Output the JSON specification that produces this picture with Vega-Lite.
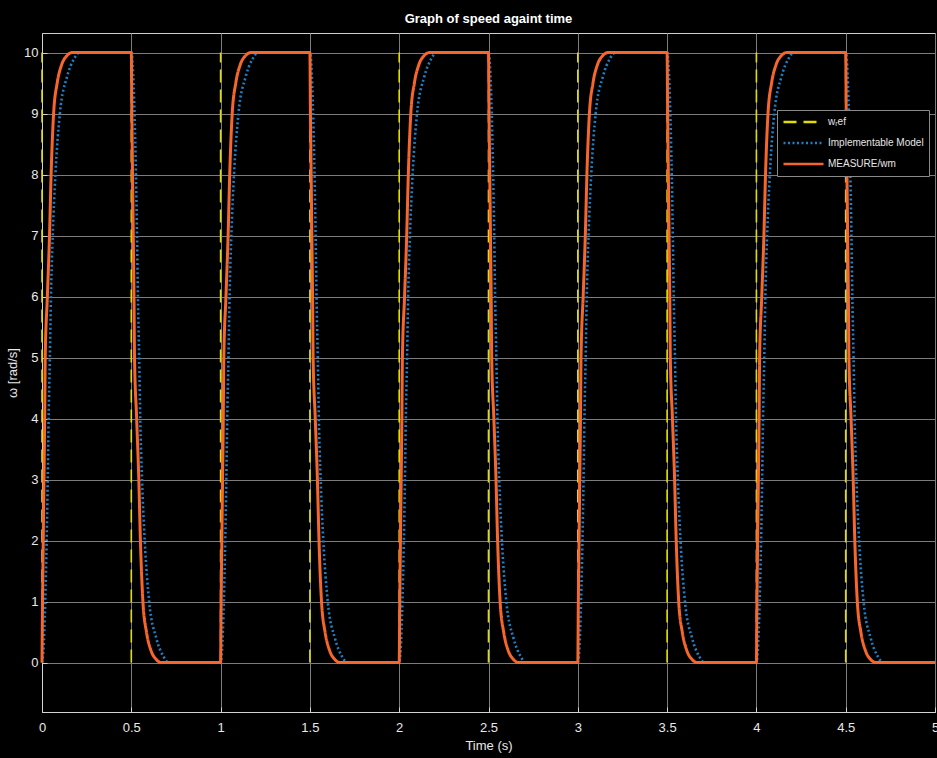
{
  "$schema": "https://vega.github.io/schema/vega-lite/v6.json",
  "width": 893,
  "height": 679,
  "autosize": {"type": "none"},
  "padding": {"left": 42, "top": 33, "right": 2, "bottom": 46},
  "background": "black",
  "title": {
    "text": "Graph of speed againt time",
    "color": "white",
    "fontSize": 13,
    "fontWeight": "bold",
    "font": "Liberation Sans, sans-serif",
    "offset": 7,
    "anchor": "middle"
  },
  "datasets": {
    "ref": [
      {"t": 0, "lo": 0, "hi": 10}, {"t": 0.5, "lo": 0, "hi": 10}, {"t": 1, "lo": 0, "hi": 10},
      {"t": 1.5, "lo": 0, "hi": 10}, {"t": 2, "lo": 0, "hi": 10}, {"t": 2.5, "lo": 0, "hi": 10},
      {"t": 3, "lo": 0, "hi": 10}, {"t": 3.5, "lo": 0, "hi": 10}, {"t": 4, "lo": 0, "hi": 10},
      {"t": 4.5, "lo": 0, "hi": 10}
    ],
    "model": [
      {"t": 0, "v": 0}, {"t": 0.008, "v": 0.2}, {"t": 0.018, "v": 1}, {"t": 0.026, "v": 2}, {"t": 0.032, "v": 3}, {"t": 0.037, "v": 4}, {"t": 0.044, "v": 5}, {"t": 0.05, "v": 6}, {"t": 0.06, "v": 7}, {"t": 0.075, "v": 8}, {"t": 0.1, "v": 9}, {"t": 0.14, "v": 9.6}, {"t": 0.18, "v": 9.9}, {"t": 0.21, "v": 10},
      {"t": 0.5, "v": 10}, {"t": 0.508, "v": 9.8}, {"t": 0.518, "v": 9}, {"t": 0.526, "v": 8}, {"t": 0.532, "v": 7}, {"t": 0.537, "v": 6}, {"t": 0.544, "v": 5}, {"t": 0.55, "v": 4}, {"t": 0.56, "v": 3}, {"t": 0.575, "v": 2}, {"t": 0.6, "v": 1}, {"t": 0.64, "v": 0.4}, {"t": 0.68, "v": 0.1}, {"t": 0.71, "v": 0},
      {"t": 1, "v": 0}, {"t": 1.008, "v": 0.2}, {"t": 1.018, "v": 1}, {"t": 1.026, "v": 2}, {"t": 1.032, "v": 3}, {"t": 1.037, "v": 4}, {"t": 1.044, "v": 5}, {"t": 1.05, "v": 6}, {"t": 1.06, "v": 7}, {"t": 1.075, "v": 8}, {"t": 1.1, "v": 9}, {"t": 1.14, "v": 9.6}, {"t": 1.18, "v": 9.9}, {"t": 1.21, "v": 10},
      {"t": 1.5, "v": 10}, {"t": 1.508, "v": 9.8}, {"t": 1.518, "v": 9}, {"t": 1.526, "v": 8}, {"t": 1.532, "v": 7}, {"t": 1.537, "v": 6}, {"t": 1.544, "v": 5}, {"t": 1.55, "v": 4}, {"t": 1.56, "v": 3}, {"t": 1.575, "v": 2}, {"t": 1.6, "v": 1}, {"t": 1.64, "v": 0.4}, {"t": 1.68, "v": 0.1}, {"t": 1.71, "v": 0},
      {"t": 2, "v": 0}, {"t": 2.008, "v": 0.2}, {"t": 2.018, "v": 1}, {"t": 2.026, "v": 2}, {"t": 2.032, "v": 3}, {"t": 2.037, "v": 4}, {"t": 2.044, "v": 5}, {"t": 2.05, "v": 6}, {"t": 2.06, "v": 7}, {"t": 2.075, "v": 8}, {"t": 2.1, "v": 9}, {"t": 2.14, "v": 9.6}, {"t": 2.18, "v": 9.9}, {"t": 2.21, "v": 10},
      {"t": 2.5, "v": 10}, {"t": 2.508, "v": 9.8}, {"t": 2.518, "v": 9}, {"t": 2.526, "v": 8}, {"t": 2.532, "v": 7}, {"t": 2.537, "v": 6}, {"t": 2.544, "v": 5}, {"t": 2.55, "v": 4}, {"t": 2.56, "v": 3}, {"t": 2.575, "v": 2}, {"t": 2.6, "v": 1}, {"t": 2.64, "v": 0.4}, {"t": 2.68, "v": 0.1}, {"t": 2.71, "v": 0},
      {"t": 3, "v": 0}, {"t": 3.008, "v": 0.2}, {"t": 3.018, "v": 1}, {"t": 3.026, "v": 2}, {"t": 3.032, "v": 3}, {"t": 3.037, "v": 4}, {"t": 3.044, "v": 5}, {"t": 3.05, "v": 6}, {"t": 3.06, "v": 7}, {"t": 3.075, "v": 8}, {"t": 3.1, "v": 9}, {"t": 3.14, "v": 9.6}, {"t": 3.18, "v": 9.9}, {"t": 3.21, "v": 10},
      {"t": 3.5, "v": 10}, {"t": 3.508, "v": 9.8}, {"t": 3.518, "v": 9}, {"t": 3.526, "v": 8}, {"t": 3.532, "v": 7}, {"t": 3.537, "v": 6}, {"t": 3.544, "v": 5}, {"t": 3.55, "v": 4}, {"t": 3.56, "v": 3}, {"t": 3.575, "v": 2}, {"t": 3.6, "v": 1}, {"t": 3.64, "v": 0.4}, {"t": 3.68, "v": 0.1}, {"t": 3.71, "v": 0},
      {"t": 4, "v": 0}, {"t": 4.008, "v": 0.2}, {"t": 4.018, "v": 1}, {"t": 4.026, "v": 2}, {"t": 4.032, "v": 3}, {"t": 4.037, "v": 4}, {"t": 4.044, "v": 5}, {"t": 4.05, "v": 6}, {"t": 4.06, "v": 7}, {"t": 4.075, "v": 8}, {"t": 4.1, "v": 9}, {"t": 4.14, "v": 9.6}, {"t": 4.18, "v": 9.9}, {"t": 4.21, "v": 10},
      {"t": 4.5, "v": 10}, {"t": 4.508, "v": 9.8}, {"t": 4.518, "v": 9}, {"t": 4.526, "v": 8}, {"t": 4.532, "v": 7}, {"t": 4.537, "v": 6}, {"t": 4.544, "v": 5}, {"t": 4.55, "v": 4}, {"t": 4.56, "v": 3}, {"t": 4.575, "v": 2}, {"t": 4.6, "v": 1}, {"t": 4.64, "v": 0.4}, {"t": 4.68, "v": 0.1}, {"t": 4.71, "v": 0},
      {"t": 5, "v": 0}
    ],
    "meas": [
      {"t": 0, "v": 0}, {"t": 0.003, "v": 1}, {"t": 0.007, "v": 2}, {"t": 0.011, "v": 3}, {"t": 0.015, "v": 4}, {"t": 0.018, "v": 5}, {"t": 0.03, "v": 6}, {"t": 0.042, "v": 7}, {"t": 0.051, "v": 8}, {"t": 0.065, "v": 9}, {"t": 0.085, "v": 9.5}, {"t": 0.11, "v": 9.8}, {"t": 0.14, "v": 9.95}, {"t": 0.17, "v": 10},
      {"t": 0.5, "v": 10}, {"t": 0.503, "v": 9}, {"t": 0.507, "v": 8}, {"t": 0.511, "v": 7}, {"t": 0.515, "v": 6}, {"t": 0.518, "v": 5}, {"t": 0.53, "v": 4}, {"t": 0.542, "v": 3}, {"t": 0.551, "v": 2}, {"t": 0.565, "v": 1}, {"t": 0.585, "v": 0.5}, {"t": 0.61, "v": 0.2}, {"t": 0.64, "v": 0.05}, {"t": 0.67, "v": 0},
      {"t": 1, "v": 0}, {"t": 1.003, "v": 1}, {"t": 1.007, "v": 2}, {"t": 1.011, "v": 3}, {"t": 1.015, "v": 4}, {"t": 1.018, "v": 5}, {"t": 1.03, "v": 6}, {"t": 1.042, "v": 7}, {"t": 1.051, "v": 8}, {"t": 1.065, "v": 9}, {"t": 1.085, "v": 9.5}, {"t": 1.11, "v": 9.8}, {"t": 1.14, "v": 9.95}, {"t": 1.17, "v": 10},
      {"t": 1.5, "v": 10}, {"t": 1.503, "v": 9}, {"t": 1.507, "v": 8}, {"t": 1.511, "v": 7}, {"t": 1.515, "v": 6}, {"t": 1.518, "v": 5}, {"t": 1.53, "v": 4}, {"t": 1.542, "v": 3}, {"t": 1.551, "v": 2}, {"t": 1.565, "v": 1}, {"t": 1.585, "v": 0.5}, {"t": 1.61, "v": 0.2}, {"t": 1.64, "v": 0.05}, {"t": 1.67, "v": 0},
      {"t": 2, "v": 0}, {"t": 2.003, "v": 1}, {"t": 2.007, "v": 2}, {"t": 2.011, "v": 3}, {"t": 2.015, "v": 4}, {"t": 2.018, "v": 5}, {"t": 2.03, "v": 6}, {"t": 2.042, "v": 7}, {"t": 2.051, "v": 8}, {"t": 2.065, "v": 9}, {"t": 2.085, "v": 9.5}, {"t": 2.11, "v": 9.8}, {"t": 2.14, "v": 9.95}, {"t": 2.17, "v": 10},
      {"t": 2.5, "v": 10}, {"t": 2.503, "v": 9}, {"t": 2.507, "v": 8}, {"t": 2.511, "v": 7}, {"t": 2.515, "v": 6}, {"t": 2.518, "v": 5}, {"t": 2.53, "v": 4}, {"t": 2.542, "v": 3}, {"t": 2.551, "v": 2}, {"t": 2.565, "v": 1}, {"t": 2.585, "v": 0.5}, {"t": 2.61, "v": 0.2}, {"t": 2.64, "v": 0.05}, {"t": 2.67, "v": 0},
      {"t": 3, "v": 0}, {"t": 3.003, "v": 1}, {"t": 3.007, "v": 2}, {"t": 3.011, "v": 3}, {"t": 3.015, "v": 4}, {"t": 3.018, "v": 5}, {"t": 3.03, "v": 6}, {"t": 3.042, "v": 7}, {"t": 3.051, "v": 8}, {"t": 3.065, "v": 9}, {"t": 3.085, "v": 9.5}, {"t": 3.11, "v": 9.8}, {"t": 3.14, "v": 9.95}, {"t": 3.17, "v": 10},
      {"t": 3.5, "v": 10}, {"t": 3.503, "v": 9}, {"t": 3.507, "v": 8}, {"t": 3.511, "v": 7}, {"t": 3.515, "v": 6}, {"t": 3.518, "v": 5}, {"t": 3.53, "v": 4}, {"t": 3.542, "v": 3}, {"t": 3.551, "v": 2}, {"t": 3.565, "v": 1}, {"t": 3.585, "v": 0.5}, {"t": 3.61, "v": 0.2}, {"t": 3.64, "v": 0.05}, {"t": 3.67, "v": 0},
      {"t": 4, "v": 0}, {"t": 4.003, "v": 1}, {"t": 4.007, "v": 2}, {"t": 4.011, "v": 3}, {"t": 4.015, "v": 4}, {"t": 4.018, "v": 5}, {"t": 4.03, "v": 6}, {"t": 4.042, "v": 7}, {"t": 4.051, "v": 8}, {"t": 4.065, "v": 9}, {"t": 4.085, "v": 9.5}, {"t": 4.11, "v": 9.8}, {"t": 4.14, "v": 9.95}, {"t": 4.17, "v": 10},
      {"t": 4.5, "v": 10}, {"t": 4.503, "v": 9}, {"t": 4.507, "v": 8}, {"t": 4.511, "v": 7}, {"t": 4.515, "v": 6}, {"t": 4.518, "v": 5}, {"t": 4.53, "v": 4}, {"t": 4.542, "v": 3}, {"t": 4.551, "v": 2}, {"t": 4.565, "v": 1}, {"t": 4.585, "v": 0.5}, {"t": 4.61, "v": 0.2}, {"t": 4.64, "v": 0.05}, {"t": 4.67, "v": 0},
      {"t": 5, "v": 0}
    ]
  },
  "encoding": {
    "x": {
      "field": "t", "type": "quantitative",
      "scale": {"domain": [0, 5], "nice": false, "zero": false},
      "axis": {"values": [0, 0.5, 1, 1.5, 2, 2.5, 3, 3.5, 4, 4.5, 5], "format": "~g", "title": "Time (s)", "labelPadding": 14, "titlePadding": 5, "labelFlush": false}
    }
  },
  "layer": [
    {
      "data": {"name": "ref"},
      "mark": {"type": "rule", "strokeWidth": 1.6},
      "encoding": {
        "y": {
          "field": "lo", "type": "quantitative",
          "scale": {"domain": [-0.81, 10.32], "nice": false, "zero": false},
          "axis": {"values": [0, 1, 2, 3, 4, 5, 6, 7, 8, 9, 10], "format": "~g", "title": "ω [rad/s]", "labelPadding": 9, "titlePadding": 4}
        },
        "y2": {"field": "hi"},
        "color": {"datum": "wᵣef"},
        "strokeDash": {"datum": "wᵣef"}
      }
    },
    {
      "data": {"name": "model"},
      "mark": {"type": "line", "strokeWidth": 2.6, "interpolate": "monotone"},
      "encoding": {
        "y": {"field": "v", "type": "quantitative"},
        "color": {"datum": "Implementable Model"},
        "strokeDash": {"datum": "Implementable Model"}
      }
    },
    {
      "data": {"name": "meas"},
      "mark": {"type": "line", "strokeWidth": 3, "interpolate": "monotone"},
      "encoding": {
        "y": {"field": "v", "type": "quantitative"},
        "color": {
          "datum": "MEASURE/wm",
          "scale": {"domain": ["wᵣef", "Implementable Model", "MEASURE/wm"], "range": ["#e2df00", "#1f80c8", "#f7662b"]},
          "legend": {
            "title": null,
            "orient": "none",
            "legendX": 735,
            "legendY": 77,
            "fillColor": "black",
            "strokeColor": "#8a8a8a",
            "padding": 5,
            "rowPadding": 7,
            "clipHeight": 14,
            "labelOffset": 3,
            "symbolType": "stroke",
            "symbolSize": 1600,
            "symbolStrokeWidth": 2.6,
            "labelFontSize": 10,
            "labelColor": "#e6e6e6",
            "labelFont": "Liberation Sans, sans-serif",
            "labelLimit": 200
          }
        },
        "strokeDash": {
          "datum": "MEASURE/wm",
          "scale": {"domain": ["wᵣef", "Implementable Model", "MEASURE/wm"], "range": [[13, 7], [2, 2.5], [1, 0]]}
        }
      }
    }
  ],
  "config": {
    "view": {"fill": "black", "stroke": "#cfcfcf", "strokeWidth": 1},
    "axis": {
      "gridColor": "#7c7c7c",
      "gridOpacity": 1,
      "gridWidth": 1,
      "domainColor": "#d4d4d4",
      "tickColor": "#d4d4d4",
      "tickSize": -5,
      "labelColor": "#e8e8e8",
      "titleColor": "#e8e8e8",
      "labelFont": "Liberation Sans, sans-serif",
      "titleFont": "Liberation Sans, sans-serif",
      "labelFontSize": 13,
      "titleFontSize": 13,
      "titleFontWeight": "normal"
    }
  }
}
